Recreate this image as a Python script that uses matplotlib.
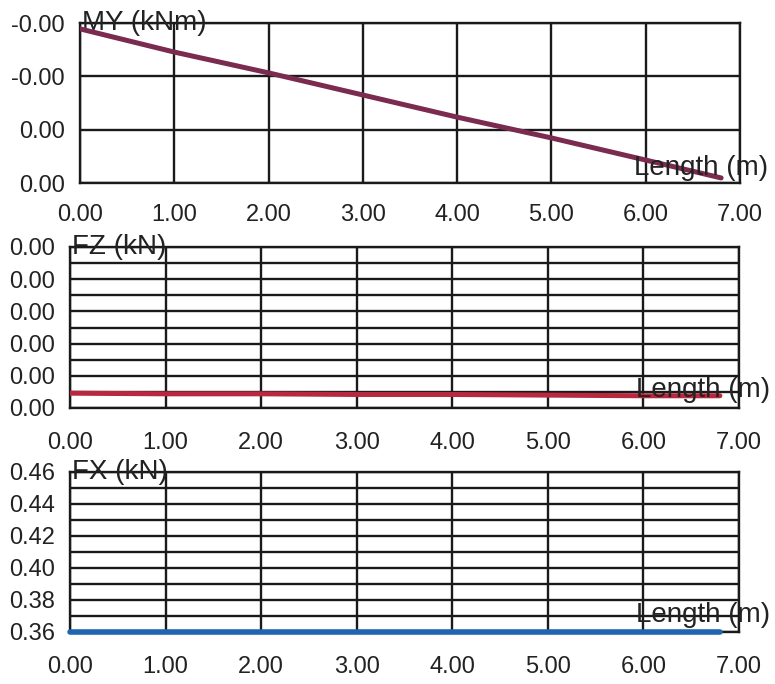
import matplotlib
matplotlib.use("Agg")
import matplotlib.pyplot as plt
from matplotlib.ticker import FormatStrFormatter, MultipleLocator

plt.rcParams['font.family'] = ['Liberation Sans', 'DejaVu Sans']

# Positions along the member (m)
length_m = [0.0, 1.0, 2.0, 3.0, 4.0, 5.0, 6.0, 6.8]

# Internal forces along the member
my_knm = [-0.00278, -0.00191, -0.00113, -0.00030, 0.00053, 0.00131, 0.00214, 0.00281]
fz_kn = [0.00023, 0.00022, 0.00022, 0.00021, 0.00021, 0.00020, 0.00019, 0.00019]
fx_kn = [0.3602, 0.3602, 0.3602, 0.3602, 0.3602, 0.3602, 0.3602, 0.3602]

x_ticks = [0, 1, 2, 3, 4, 5, 6, 7]
my_ticks = [-0.003, -0.001, 0.001, 0.003]
fz_ticks = [0.0, 0.0005, 0.0010, 0.0015, 0.0020, 0.0025]
fx_ticks = [0.36, 0.38, 0.40, 0.42, 0.44, 0.46]

W, H = 775, 684
fig = plt.figure(figsize=(W / 100, H / 100), dpi=100)


def px_axes(left, top, right, bottom):
    return fig.add_axes([left / W, 1 - bottom / H, (right - left) / W, (bottom - top) / H])


TICK_FS = 17
LABEL_FS = 20
GRID_LW = 1.7
LINE_LW = 3.6


def style(ax, title, yticks, ylim, minor_step=None, invert=False, xpad=16):
    ax.set_xlim(0, 7)
    ax.set_xticks(x_ticks)
    ax.xaxis.set_major_formatter(FormatStrFormatter('%.2f'))
    ax.set_yticks(yticks)
    ax.yaxis.set_major_formatter(FormatStrFormatter('%.2f'))
    ax.set_ylim(*ylim)
    if invert:
        ax.invert_yaxis()
    if minor_step is not None:
        ax.yaxis.set_minor_locator(MultipleLocator(minor_step))
        ax.grid(True, which='minor', axis='y', color='#1a1a1a', lw=GRID_LW)
    ax.grid(True, which='major', color='#1a1a1a', lw=GRID_LW)
    ax.tick_params(axis='both', which='both', length=0, labelsize=TICK_FS, colors='#222222')
    ax.tick_params(axis='x', pad=xpad)
    ax.tick_params(axis='y', pad=11)
    for s in ax.spines.values():
        s.set_color('#1a1a1a')
        s.set_linewidth(GRID_LW)
        s.set_zorder(2.5)
    ax.set_axisbelow(True)
    ax.text(0.003, 1.0, title, transform=ax.transAxes, ha='left', va='center',
            fontsize=LABEL_FS, color='#222222')


def length_label(ax, x, y):
    ax.text(x, y, 'Length (m)', transform=ax.transAxes, ha='right', va='center',
            fontsize=LABEL_FS, color='#222222', zorder=4)


ax1 = px_axes(80, 23, 740, 183)
style(ax1, 'MY (kNm)', my_ticks, (-0.003, 0.003), invert=True, xpad=15)
ax1.plot(length_m, my_knm, color='#7b2a50', lw=LINE_LW, solid_capstyle='round', zorder=3)
length_label(ax1, 1.042, 0.094)

ax2 = px_axes(70, 247, 739, 408)
style(ax2, 'FZ (kN)', fz_ticks, (0.0, 0.0025), minor_step=0.00025, xpad=17)
ax2.plot(length_m, fz_kn, color='#b8283f', lw=LINE_LW, solid_capstyle='round', zorder=3)
length_label(ax2, 1.046, 0.11)

ax3 = px_axes(70, 472, 739, 632)
style(ax3, 'FX (kN)', fx_ticks, (0.36, 0.46), minor_step=0.01, xpad=17)
ax3.plot(length_m, fx_kn, color='#1f66b0', lw=LINE_LW + 0.4, solid_capstyle='round',
         zorder=3, clip_on=False)
length_label(ax3, 1.046, 0.106)

fig.savefig('out.png', dpi=100, facecolor='white')
